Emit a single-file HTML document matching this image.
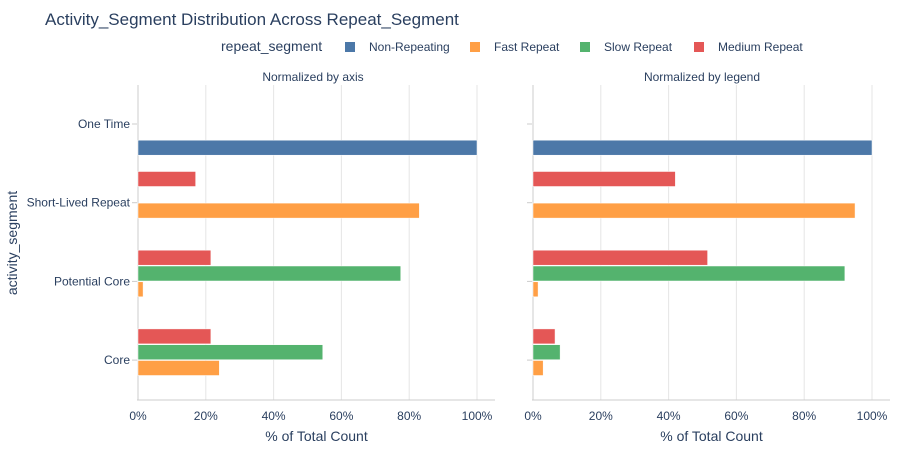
<!DOCTYPE html>
<html><head><meta charset="utf-8"><style>
body{margin:0;background:#fff;}
svg text{font-family:"Liberation Sans",sans-serif;fill:#2a3f5f;}
</style></head><body>
<svg id="c" width="900" height="450" xmlns="http://www.w3.org/2000/svg">
<text x="45" y="25" font-size="17">Activity_Segment Distribution Across Repeat_Segment</text>
<g id="legend">
<text x="221" y="51" font-size="14">repeat_segment</text>
</g>
<text x="313" y="81" font-size="12" text-anchor="middle">Normalized by axis</text>
<text x="702" y="81" font-size="12" text-anchor="middle">Normalized by legend</text>
<text transform="translate(17,243) rotate(-90)" font-size="14" text-anchor="middle">activity_segment</text>
<g id="plots"></g>
</svg>
<script>
const categories=["One Time","Short-Lived Repeat","Potential Core","Core"];
const seriesNames=["Non-Repeating","Fast Repeat","Slow Repeat","Medium Repeat"];
const colors=["#4c78a8","#ff9f45","#54b36e","#e45756"];
const xTicks=[0,20,40,60,80,100];
const leftNonRepeating=[100,0,0,0];
const leftFast=[0,83,1.5,24];
const leftSlow=[0,0,77.5,54.5];
const leftMedium=[0,17,21.5,21.5];
const rightNonRepeating=[100,0,0,0];
const rightFast=[0,95,1.5,3];
const rightSlow=[0,0,92,8];
const rightMedium=[0,42,51.5,6.5];
const NS="http://www.w3.org/2000/svg";
function mk(t,a,p){const e=document.createElementNS(NS,t);for(const k in a)e.setAttribute(k,a[k]);p.appendChild(e);return e;}
const lg=document.getElementById('legend');
const lx=[345,470,580,694];
seriesNames.forEach((n,i)=>{
 const g=mk('g',{},lg);
 
 
 mk('rect',{x:lx[i],y:42,width:10,height:10,fill:colors[i]},g);
 const t=mk('text',{x:lx[i]+24,y:51,'font-size':12},g);t.textContent=n;
});
const plots=document.getElementById('plots');
const plotTop=85,plotBot=400,catStep=78.7,slot=15.8;
function yc(i){return 124+i*catStep;}
function panel(x0,name,data,showLabels){
 const g=mk('g',{},plots);
 
 
 const w=339;const X=v=>x0+v/100*w;const xEnd=x0+357;
 xTicks.forEach(t=>{
  if(t>0){const l=mk('line',{x1:X(t),x2:X(t),y1:plotTop,y2:plotBot,stroke:'#e5e5e5'},g);
  }
  const tx=mk('text',{x:X(t),y:420,'font-size':12,'text-anchor':'middle'},g);
  
  tx.textContent=t+'%';
 });
 mk('line',{x1:x0,x2:x0,y1:plotTop,y2:plotBot,stroke:'#ccc'},g);
 mk('line',{x1:x0-1,x2:xEnd,y1:plotBot,y2:plotBot,stroke:'#ccc'},g);
 const xt=mk('text',{x:(x0+xEnd)/2,y:441,'font-size':14,'text-anchor':'middle'},g);
 
 xt.textContent='% of Total Count';
 categories.forEach((c,i)=>{
  mk('line',{x1:x0-6,x2:x0-1,y1:yc(i),y2:yc(i),stroke:'#ccc'},g);
  if(showLabels){const t=mk('text',{x:x0-8,y:yc(i)+4,'font-size':12,'text-anchor':'end'},g);
   t.textContent=c;}
 });
 const offs=[1.5,0.5,-0.5,-1.5];
 data.forEach((arr,s)=>{
  arr.forEach((v,i)=>{
   if(v<=0)return;
   const cy=yc(i)+offs[s]*slot;
   const r=mk('rect',{x:x0,y:cy-7.5,width:X(v)-x0,height:15,fill:colors[s],stroke:'#fff','stroke-width':0.5},g);
   
   
  });
 });
}
panel(138,'left-panel',[leftNonRepeating,leftFast,leftSlow,leftMedium],true);
panel(533,'right-panel',[rightNonRepeating,rightFast,rightSlow,rightMedium],false);
</script>
</body></html>
